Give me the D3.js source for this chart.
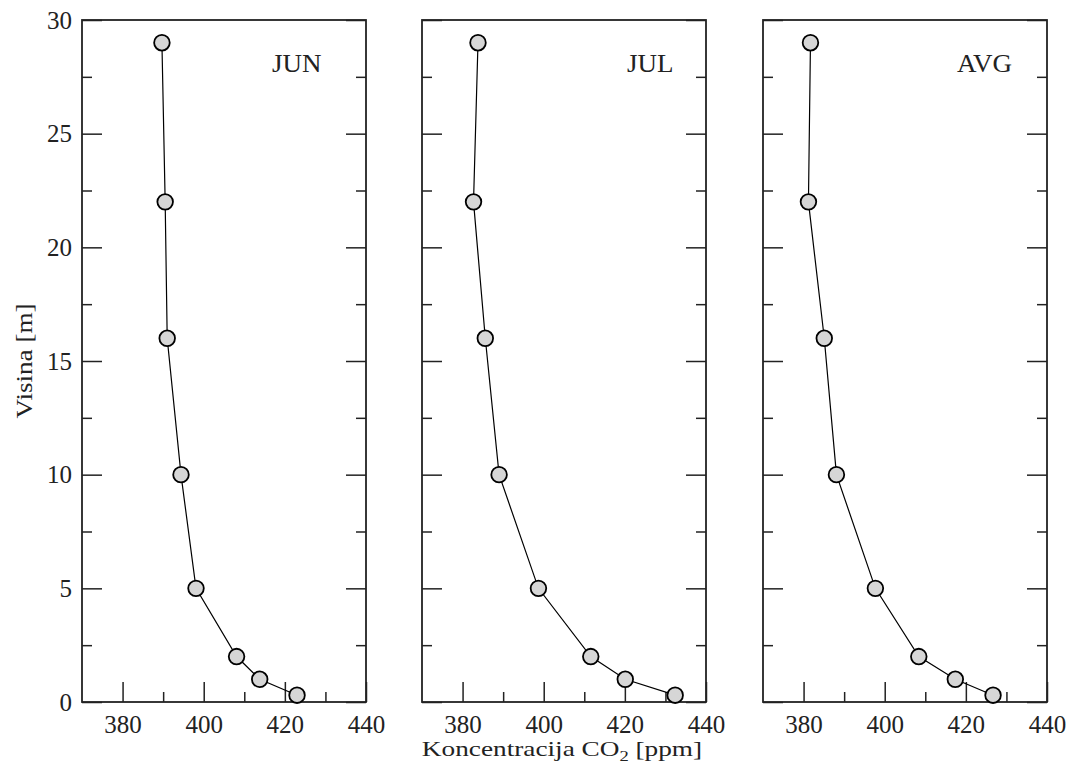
<!DOCTYPE html>
<html>
<head>
<meta charset="utf-8">
<script src="https://cdn.jsdelivr.net/npm/d3@7"></script>
<style>
  body { margin: 0; background: #fff; }
  text { font-family: "Liberation Serif", "Times New Roman", serif; fill: #222; }
</style>
</head>
<body>
<div id="chart"></div>
<script>
// heights [m] of the measurement points
var heights = [29, 22, 16, 10, 5, 2, 1, 0.3];
// CO2 concentration [ppm] per month
var jun = [389.7, 390.5, 391.0, 394.4, 398.1, 408.1, 413.8, 423.0];
var jul = [383.8, 382.7, 385.6, 389.0, 398.7, 411.6, 420.1, 432.4];
var avg = [381.7, 381.2, 385.1, 388.1, 397.7, 408.4, 417.4, 426.7];
var panelNames = ["JUN", "JUL", "AVG"];
var xTicks = [380, 400, 420, 440];
var xMinor = [390, 410, 430];
var yTicks = [0, 5, 10, 15, 20, 25, 30];
var yMinor = [2.5, 7.5, 12.5, 17.5, 22.5, 27.5];

var series = [jun, jul, avg];
var panelLeft = [82, 422, 763];
var labelX = [272, 627, 957];
var pw = 284, mTop = 20, ph = 682;

var svg = d3.select("#chart").append("svg")
    .attr("width", 1068).attr("height", 765);

var y = d3.scaleLinear().domain([0, 30]).range([ph, 0]);

series.forEach(function(vals, i) {
    var g = svg.append("g")
        .attr("transform", "translate(" + panelLeft[i] + "," + mTop + ")");
    var x = d3.scaleLinear().domain([370, 440]).range([0, pw]);

    // x ticks (inward)
    var xa = g.append("g").attr("transform", "translate(0," + ph + ")")
        .call(d3.axisBottom(x).tickValues(xTicks).tickSize(-20).tickFormat(d3.format("d")));
    xa.select(".domain").remove();
    xa.selectAll("line").attr("stroke", "#222").attr("stroke-width", 1.5);
    xa.selectAll("text").attr("y", 13).attr("font-size", 25).attr("fill", "#222")
        .style("font-family", "Liberation Serif");
    var xm = g.append("g").attr("transform", "translate(0," + ph + ")")
        .call(d3.axisBottom(x).tickValues(xMinor).tickSize(-10).tickFormat(""));
    xm.select(".domain").remove();
    xm.selectAll("line").attr("stroke", "#222").attr("stroke-width", 1.5);

    // y ticks left and right
    [[d3.axisLeft, 0], [d3.axisRight, pw]].forEach(function(a) {
        var ya = g.append("g").attr("transform", "translate(" + a[1] + ",0)")
            .call(a[0](y).tickValues(yTicks).tickSize(-20)
                .tickFormat(i === 0 && a[1] === 0 ? d3.format("d") : ""));
        ya.select(".domain").remove();
        ya.selectAll("line").attr("stroke", "#222").attr("stroke-width", 1.5);
        ya.selectAll("text").attr("x", -10).attr("font-size", 25).attr("fill", "#222")
            .style("font-family", "Liberation Serif");
        var ym = g.append("g").attr("transform", "translate(" + a[1] + ",0)")
            .call(a[0](y).tickValues(yMinor).tickSize(-10).tickFormat(""));
        ym.select(".domain").remove();
        ym.selectAll("line").attr("stroke", "#222").attr("stroke-width", 1.5);
    });

    // frame
    g.append("rect").attr("width", pw).attr("height", ph)
        .attr("fill", "none").attr("stroke", "#222").attr("stroke-width", 1.8);

    var pts = vals.map(function(v, k) { return [v, heights[k]]; });
    g.append("path").datum(pts)
        .attr("fill", "none").attr("stroke", "#000").attr("stroke-width", 1.2)
        .attr("d", d3.line().x(function(d) { return x(d[0]); }).y(function(d) { return y(d[1]); }));
    g.selectAll("circle").data(pts).enter().append("circle")
        .attr("cx", function(d) { return x(d[0]); })
        .attr("cy", function(d) { return y(d[1]); })
        .attr("r", 7.8)
        .attr("fill", "#d6d6d6").attr("stroke", "#000").attr("stroke-width", 1.8);

    g.append("text")
        .attr("transform", "translate(" + (labelX[i] - panelLeft[i]) + "," + (72 - mTop) + ") scale(1.08,1)")
        .attr("font-size", 25).text(panelNames[i]);
});

// axis titles
var xt = svg.append("text").attr("transform", "translate(562,756) scale(1.24,1)")
    .attr("text-anchor", "middle").attr("font-size", 22);
xt.append("tspan").text("Koncentracija CO");
xt.append("tspan").attr("dy", 5).attr("font-size", 15).text("2");
xt.append("tspan").attr("dy", -5).text(" [ppm]");

svg.append("text").attr("transform", "translate(32,361) rotate(-90) scale(1.18,1)")
    .attr("text-anchor", "middle").attr("font-size", 23).text("Visina [m]");
</script>
</body>
</html>
